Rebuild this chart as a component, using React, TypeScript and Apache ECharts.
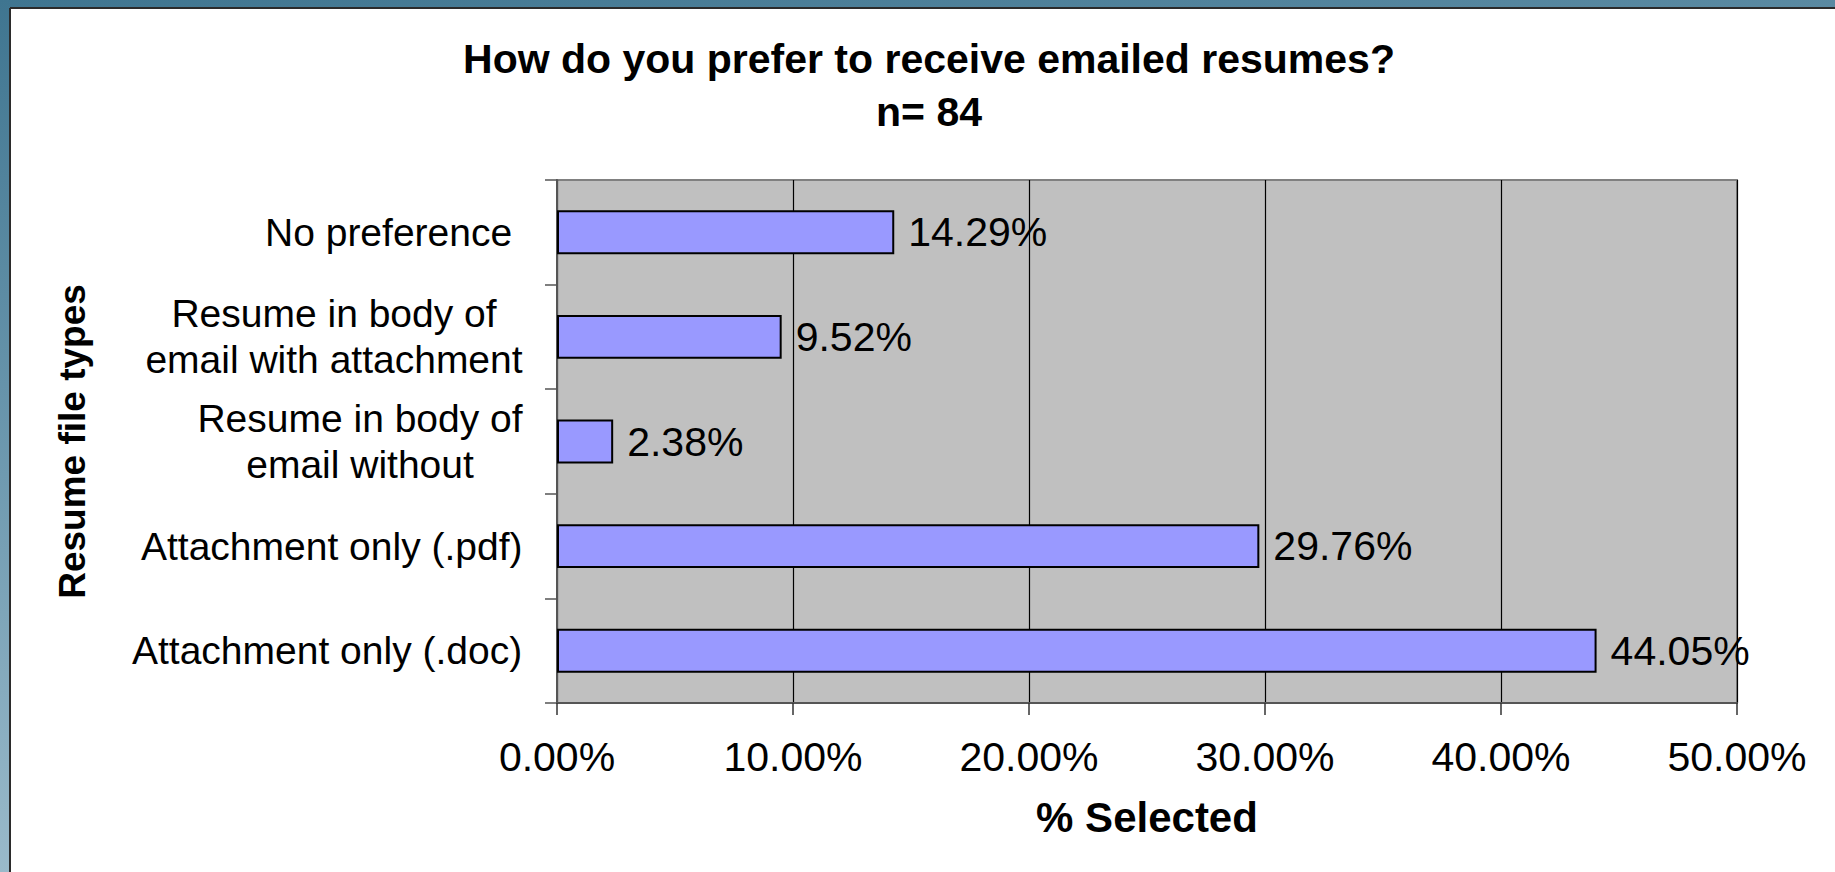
import React, { useEffect, useRef } from "react";
import * as echarts from "echarts";

const categories = [
  "No preference ",
  "Resume in body of\nemail with attachment",
  "Resume in body of\nemail without",
  "Attachment only (.pdf)",
  "Attachment only (.doc)",
];
const values = [14.29, 9.52, 2.38, 29.76, 44.05];
const xMin = 0;
const xMax = 50;
const xStep = 10;
const titleText = "How do you prefer to receive emailed resumes?\nn= 84";
const xName = "% Selected";
const yName = "Resume file types";

const FONT = '"Liberation Sans", Arial, Helvetica, sans-serif';
const CAT_SIZE = 39;
const NUM_SIZE = 41;

function measure(text: string, font: string): number {
  const ctx = document.createElement("canvas").getContext("2d");
  if (!ctx) return text.length * 20;
  ctx.font = font;
  return ctx.measureText(text).width;
}

export default function App() {
  const ref = useRef<HTMLDivElement>(null);

  useEffect(() => {
    if (!ref.current) return;
    const chart = echarts.init(ref.current, undefined, { renderer: "svg" });

    const rich: Record<string, any> = {};
    categories.forEach((c, i) => {
      const lines = c.split("\n");
      const w = Math.max(...lines.map((l) => measure(l, `${CAT_SIZE}px ${FONT}`)));
      rich["c" + i] = {
        width: Math.ceil(w),
        align: lines.length > 1 ? "center" : "left",
        fontSize: CAT_SIZE,
        lineHeight: 46,
        fontFamily: FONT,
        color: "#000",
      };
    });

    chart.setOption({
      animation: false,
      backgroundColor: {
        type: "linear",
        x: 0,
        y: 0,
        x2: 0.3,
        y2: 1,
        colorStops: [
          { offset: 0, color: "#3f7590" },
          { offset: 0.5, color: "#6f9ab0" },
          { offset: 1, color: "#a2c0cf" },
        ],
      },
      graphic: [
        {
          type: "rect",
          z: -10,
          silent: true,
          shape: { x: 10, y: 8, width: 1825, height: 864 },
          style: { fill: "#ffffff" },
        },
        {
          type: "line",
          z: -9,
          silent: true,
          shape: { x1: 10, y1: 8, x2: 10, y2: 872 },
          style: { stroke: "#2b2b2b", lineWidth: 2 },
        },
        {
          type: "line",
          z: -9,
          silent: true,
          shape: { x1: 10, y1: 8, x2: 1835, y2: 8 },
          style: { stroke: "#2b2b2b", lineWidth: 2 },
        },
      ],
      title: {
        text: titleText,
        left: 924,
        top: 27,
        textAlign: "center",
        textStyle: {
          fontFamily: FONT,
          fontWeight: "bold",
          fontSize: 41,
          lineHeight: 53,
          color: "#000",
        },
      },
      grid: {
        left: 557,
        right: 98,
        top: 180,
        bottom: 169,
        show: true,
        backgroundColor: "#c0c0c0",
        borderColor: "#808080",
        borderWidth: 2,
        outerBoundsMode: "none",
        containLabel: false,
      },
      xAxis: {
        type: "value",
        min: xMin,
        max: xMax,
        interval: xStep,
        name: xName,
        nameLocation: "middle",
        nameGap: 93,
        nameTextStyle: {
          fontFamily: FONT,
          fontWeight: "bold",
          fontSize: 42,
          color: "#000",
        },
        axisLine: { show: true, lineStyle: { color: "#555555", width: 2 } },
        axisTick: { show: true, length: 12, lineStyle: { color: "#333333", width: 1.5 } },
        axisLabel: {
          margin: 33,
          fontFamily: FONT,
          fontSize: NUM_SIZE,
          color: "#000",
          formatter: (v: number) => v.toFixed(2) + "%",
        },
        splitLine: { show: true, lineStyle: { color: "#000000", width: 1.2 } },
      },
      yAxis: {
        type: "category",
        data: categories,
        inverse: true,
        name: yName,
        nameLocation: "middle",
        nameRotate: 90,
        nameGap: 466,
        nameTextStyle: {
          fontFamily: FONT,
          fontWeight: "bold",
          fontSize: 37,
          color: "#000",
        },
        axisLine: { show: true, lineStyle: { color: "#555555", width: 2 } },
        axisTick: { show: true, length: 12, lineStyle: { color: "#555555", width: 1.5 } },
        axisLabel: {
          margin: 34,
          formatter: (value: string, index: number) =>
            value
              .split("\n")
              .map((l) => `{c${index}|${l}}`)
              .join("\n"),
          rich,
        },
        splitLine: { show: false },
      },
      series: [
        {
          type: "bar",
          data: values,
          barWidth: "42%",
          itemStyle: { color: "#9999ff", borderColor: "#000000", borderWidth: 2 },
          label: {
            show: true,
            position: "right",
            distance: 14,
            fontFamily: FONT,
            fontSize: NUM_SIZE,
            color: "#000",
            formatter: (p: any) => Number(p.value).toFixed(2) + "%",
          },
        },
      ],
    });

    return () => chart.dispose();
  }, []);

  return (
    <div
      ref={ref}
      style={{ position: "fixed", left: 0, top: 0, width: 1835, height: 872 }}
    />
  );
}
